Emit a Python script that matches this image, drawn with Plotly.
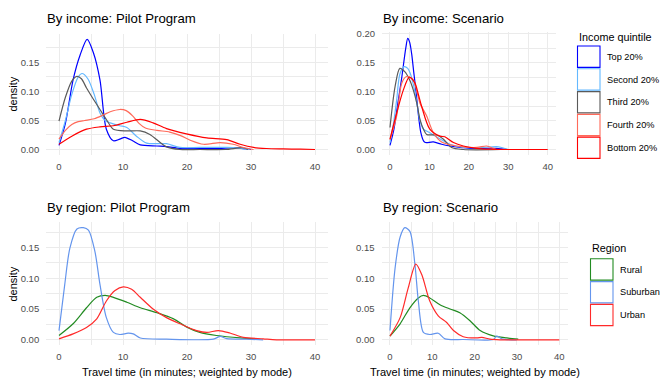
import plotly.graph_objects as go

W, H = 672, 384

# ---------------- data ----------------
income_groups = ["Top 20%", "Second 20%", "Third 20%", "Fourth 20%", "Bottom 20%"]
income_colors = ["#0000FF", "#63B8FF", "#5A5A5A", "#FF6A5A", "#FF0000"]
region_groups = ["Rural", "Suburban", "Urban"]
region_colors = ["#228B22", "#6495ED", "#FF2A2A"]

# Pilot Program, by income
pilot_top_t = [0, 1, 2.2, 3.3, 4.4, 5.4, 6.4, 7.4, 8.5, 9.5, 10.3, 11.5, 12.7, 15.3, 16.8, 18.9, 20.5, 25, 27.2, 29.3, 30]
pilot_top_d = [0.007, 0.045, 0.12, 0.163, 0.19, 0.166, 0.12, 0.035, 0.015, 0.018, 0.021, 0.015, 0.008, 0.006, 0.005, 0.002, 0.002, 0.002, 0.003, 0.001, 0.0]
pilot_second_t = [0, 1, 2, 3, 3.6, 4.5, 5.5, 6.4, 7.2, 8, 9.5, 10.6, 12.1, 13.7, 16.8, 18.9, 22, 26.2, 28.3, 29.8]
pilot_second_d = [0.012, 0.05, 0.095, 0.125, 0.131, 0.122, 0.095, 0.063, 0.05, 0.046, 0.041, 0.038, 0.023, 0.011, 0.01, 0.0035, 0.0035, 0.0035, 0.002, 0.0]
pilot_third_t = [0, 1, 2, 2.8, 3.5, 4.3, 5.3, 6.4, 7.5, 8.5, 10.6, 12.7, 14.2, 16.8, 18.9, 22, 26, 28.8, 29.5]
pilot_third_d = [0.049, 0.09, 0.118, 0.126, 0.122, 0.106, 0.088, 0.069, 0.05, 0.035, 0.032, 0.032, 0.026, 0.0045, 0.0, 0.0, 0.0, 0.003, 0.0]
pilot_fourth_t = [0, 1, 2, 3, 4, 5.5, 7, 8, 9.5, 10.5, 11.5, 12.5, 13.5, 15.3, 17.3, 19, 20.5, 22.6, 25.2, 27.2, 28.8, 30.4]
pilot_fourth_d = [0.018, 0.033, 0.043, 0.048, 0.05, 0.053, 0.06, 0.065, 0.069, 0.067, 0.058, 0.045, 0.037, 0.033, 0.03, 0.024, 0.016, 0.009, 0.012, 0.009, 0.0035, 0.0]
pilot_bottom_t = [0, 2, 4.3, 6.4, 8.5, 10.6, 12.7, 14.7, 16.8, 19.9, 23.1, 26.2, 28.3, 30.4, 32.4, 35, 37.7, 40]
pilot_bottom_d = [0.009, 0.023, 0.035, 0.039, 0.041, 0.047, 0.052, 0.046, 0.036, 0.027, 0.02, 0.017, 0.009, 0.0035, 0.0017, 0.001, 0.0005, 0.0]

# Scenario, by income
scen_top_t = [0, 1, 2, 3, 4, 4.5, 5, 5.5, 6, 6.6, 7.2, 7.8, 8.5, 9, 11, 13.1, 15.2, 17.8, 20.3, 27, 29.6]
scen_top_d = [0.007, 0.035, 0.08, 0.125, 0.175, 0.192, 0.185, 0.165, 0.135, 0.1, 0.06, 0.03, 0.015, 0.012, 0.013, 0.009, 0.006, 0.0035, 0.002, 0.002, 0.0]
scen_second_t = [0, 1, 1.7, 2.5, 3.6, 4.5, 5.1, 6, 6.8, 7.6, 8.5, 10.1, 12.7, 15.2, 18.6, 23.7, 27, 28.3, 30]
scen_second_d = [0.012, 0.05, 0.086, 0.13, 0.143, 0.14, 0.132, 0.11, 0.08, 0.05, 0.035, 0.029, 0.018, 0.009, 0.0035, 0.0035, 0.005, 0.0035, 0.0]
scen_third_t = [0, 1.3, 2.5, 3.8, 5, 5.9, 6.8, 7.6, 8.5, 9.3, 11.8, 13.5, 15.6, 18.6, 28]
scen_third_d = [0.038, 0.109, 0.14, 0.134, 0.12, 0.103, 0.08, 0.052, 0.035, 0.026, 0.025, 0.018, 0.0035, 0.0, 0.0]
scen_fourth_t = [0, 1.7, 3, 4.2, 5.9, 7, 7.6, 8.5, 9.3, 11, 13.1, 16.9, 22, 24.5, 26.2, 27]
scen_fourth_d = [0.0165, 0.058, 0.115, 0.126, 0.12, 0.095, 0.08, 0.068, 0.058, 0.029, 0.013, 0.006, 0.0035, 0.006, 0.002, 0.0]
scen_bottom_t = [0, 1.7, 3.4, 4.9, 6.3, 7.2, 8, 10.1, 12.7, 13.9, 16.1, 18.6, 22, 25.4, 30, 35, 40]
scen_bottom_d = [0.018, 0.063, 0.103, 0.125, 0.115, 0.095, 0.075, 0.035, 0.023, 0.022, 0.012, 0.006, 0.002, 0.0005, 0.0, 0.0, 0.0]

# Pilot Program, by region
pilot_rural_t = [0, 2.2, 4.3, 5.9, 7.2, 8.5, 10.6, 12.7, 15.3, 17.9, 19.9, 22, 24.6, 28.3, 30.6]
pilot_rural_d = [0.007, 0.026, 0.052, 0.069, 0.072, 0.069, 0.061, 0.052, 0.044, 0.034, 0.021, 0.012, 0.007, 0.003, 0.0016]
pilot_suburban_t = [0, 0.9, 1.7, 2.8, 3.8, 4.6, 5.6, 6.4, 7.4, 8.5, 9.5, 10.8, 11.6, 12.7, 16.8, 24.1, 25.2, 26.2, 29.3, 31.9]
pilot_suburban_d = [0.015, 0.09, 0.149, 0.18, 0.182, 0.178, 0.144, 0.09, 0.036, 0.012, 0.0086, 0.0107, 0.0096, 0.003, 0.001, 0.001, 0.0054, 0.002, 0.001, 0.0]
pilot_urban_t = [0, 2.2, 4.3, 5.9, 7.4, 8.75, 10.05, 11.35, 12.7, 14.7, 16.8, 18.9, 21.5, 23.1, 24.9, 26.7, 28.8, 31.9, 34, 40]
pilot_urban_d = [0.0016, 0.0096, 0.02, 0.034, 0.063, 0.08, 0.086, 0.082, 0.069, 0.05, 0.036, 0.026, 0.015, 0.012, 0.015, 0.011, 0.004, 0.0016, 0.0, 0.0]

# Scenario, by region
scen_rural_t = [0, 2.4, 4.7, 6.7, 7.9, 9.4, 11.8, 14.2, 16.5, 18.9, 21.3, 24.4, 27.6, 30.3]
scen_rural_d = [0.006, 0.026, 0.052, 0.068, 0.072, 0.068, 0.057, 0.05, 0.044, 0.031, 0.015, 0.0064, 0.003, 0.001]
scen_suburban_t = [0, 1.2, 2.4, 3.5, 4.7, 5.9, 6.7, 7.9, 9.4, 11.4, 13, 17.3, 24.4, 25.2, 26.4, 29.9]
scen_suburban_d = [0.015, 0.116, 0.167, 0.182, 0.176, 0.122, 0.063, 0.012, 0.0086, 0.0107, 0.0016, 0.0005, 0.0005, 0.006, 0.0016, 0.0]
scen_urban_t = [0, 2.4, 4.3, 6.1, 7.5, 9.4, 11.4, 13.4, 15, 17.3, 20.5, 21.7, 23.6, 26, 40]
scen_urban_d = [0.006, 0.036, 0.084, 0.123, 0.106, 0.063, 0.039, 0.028, 0.015, 0.005, 0.003, 0.004, 0.001, 0.0, 0.0]

x_ticks = [0, 10, 20, 30, 40]

panels = [
    ("x", "y", [(pilot_top_t, pilot_top_d), (pilot_second_t, pilot_second_d), (pilot_third_t, pilot_third_d),
                (pilot_fourth_t, pilot_fourth_d), (pilot_bottom_t, pilot_bottom_d)], income_colors),
    ("x2", "y2", [(scen_top_t, scen_top_d), (scen_second_t, scen_second_d), (scen_third_t, scen_third_d),
                  (scen_fourth_t, scen_fourth_d), (scen_bottom_t, scen_bottom_d)], income_colors),
    ("x3", "y3", [(pilot_rural_t, pilot_rural_d), (pilot_suburban_t, pilot_suburban_d), (pilot_urban_t, pilot_urban_d)], region_colors),
    ("x4", "y4", [(scen_rural_t, scen_rural_d), (scen_suburban_t, scen_suburban_d), (scen_urban_t, scen_urban_d)], region_colors),
]

fig = go.Figure()
for xa, ya, series, cols in panels:
    for (t, d), c in zip(series, cols):
        fig.add_trace(go.Scatter(x=t, y=d, xaxis=xa, yaxis=ya, mode="lines",
                                 line=dict(color=c, width=1.2, shape="spline", smoothing=0.8),
                                 showlegend=False, hoverinfo="skip"))

FONT = "Liberation Sans, Arial, sans-serif"
GRID = "#EBEBEB"
TICKC = "#4D4D4D"

def px_x(v):
    return v / W

def px_y(v):
    return 1 - v / H

def xaxis(l, r):
    return dict(domain=[px_x(l), px_x(r)], range=[-2, 42], tickvals=x_ticks, showline=False, zeroline=False,
                ticks="", showgrid=True, gridcolor=GRID, gridwidth=1,
                tickfont=dict(family=FONT, size=9.5, color=TICKC), ticklabelstandoff=4,
                minor=dict(tickvals=[5, 15, 25, 35], showgrid=True, gridcolor=GRID, gridwidth=0.5))

def yaxis(top, bottom, rng, ticks, minor):
    return dict(domain=[px_y(bottom), px_y(top)], range=rng, tickvals=ticks, tickformat=".2f",
                showline=False, zeroline=False, ticks="", showgrid=True, gridcolor=GRID, gridwidth=1,
                tickfont=dict(family=FONT, size=9.5, color=TICKC), ticklabelstandoff=6,
                minor=dict(tickvals=minor, showgrid=True, gridcolor=GRID, gridwidth=0.5))

top_minor = [0.025, 0.075, 0.125, 0.175]
fig.update_layout(
    width=W, height=H, margin=dict(l=0, r=0, t=0, b=0),
    paper_bgcolor="white", plot_bgcolor="white",
    xaxis=xaxis(46.2, 327.8),
    xaxis2=xaxis(382.1, 555.6),
    xaxis3=xaxis(46.2, 327.8),
    xaxis4=xaxis(381.5, 567.8),
    yaxis=dict(yaxis(30.1, 152.6, [-0.0095, 0.1995], [0, 0.05, 0.10, 0.15], top_minor), anchor="x"),
    yaxis2=dict(yaxis(28.4, 152.7, [-0.0097, 0.2027], [0, 0.05, 0.10, 0.15, 0.20], top_minor), anchor="x2"),
    yaxis3=dict(yaxis(220.4, 345.0, [-0.0091, 0.1911], [0, 0.05, 0.10, 0.15], top_minor), anchor="x3"),
    yaxis4=dict(yaxis(220.4, 345.0, [-0.0091, 0.1911], [0, 0.05, 0.10, 0.15], top_minor), anchor="x4"),
)
fig.layout.xaxis.anchor = "y"
fig.layout.xaxis2.anchor = "y2"
fig.layout.xaxis3.anchor = "y3"
fig.layout.xaxis4.anchor = "y4"

ann = []
def text(x, y, s, size, color="#000000", xanchor="left", angle=0):
    ann.append(dict(x=px_x(x), y=px_y(y), xref="paper", yref="paper", text=s, showarrow=False,
                    xanchor=xanchor, yanchor="middle", textangle=angle,
                    font=dict(family=FONT, size=size, color=color)))

# panel titles
text(45, 14.5, "By income: Pilot Program", 13.2)
text(381, 14.5, "By income: Scenario", 13.2)
text(45, 206, "By region: Pilot Program", 13.2)
text(381, 206, "By region: Scenario", 13.2)
# axis titles
text(13.5, 91, "density", 11, xanchor="center", angle=-90)
text(13.5, 283, "density", 11, xanchor="center", angle=-90)
text(187, 371.5, "Travel time (in minutes; weighted by mode)", 11, xanchor="center")
text(475, 371.5, "Travel time (in minutes; weighted by mode)", 11, xanchor="center")

# legends (drawn as ggplot-style outlined keys)
shapes = []
text(577, 33, "Income quintile", 10.8)
for i, (g, c) in enumerate(zip(income_groups, income_colors)):
    y0 = 42.5 + i * 23.0
    shapes.append(dict(type="rect", xref="paper", yref="paper", x0=px_x(577.5), x1=px_x(600),
                       y0=px_y(y0 + 21.5), y1=px_y(y0), line=dict(color=c, width=1.1), fillcolor="white"))
    text(605, y0 + 11, g, 9.2)

text(590, 247, "Region", 10.8)
for i, (g, c) in enumerate(zip(region_groups, region_colors)):
    y0 = 257.5 + i * 23.0
    shapes.append(dict(type="rect", xref="paper", yref="paper", x0=px_x(590.5), x1=px_x(613),
                       y0=px_y(y0 + 21.5), y1=px_y(y0), line=dict(color=c, width=1.1), fillcolor="white"))
    text(618, y0 + 11, g, 9.2)

fig.update_layout(annotations=ann, shapes=shapes)
fig.write_html("out.html", config={"displayModeBar": False},
               post_script="document.body.style.margin='0px';document.body.style.overflow='hidden';")
